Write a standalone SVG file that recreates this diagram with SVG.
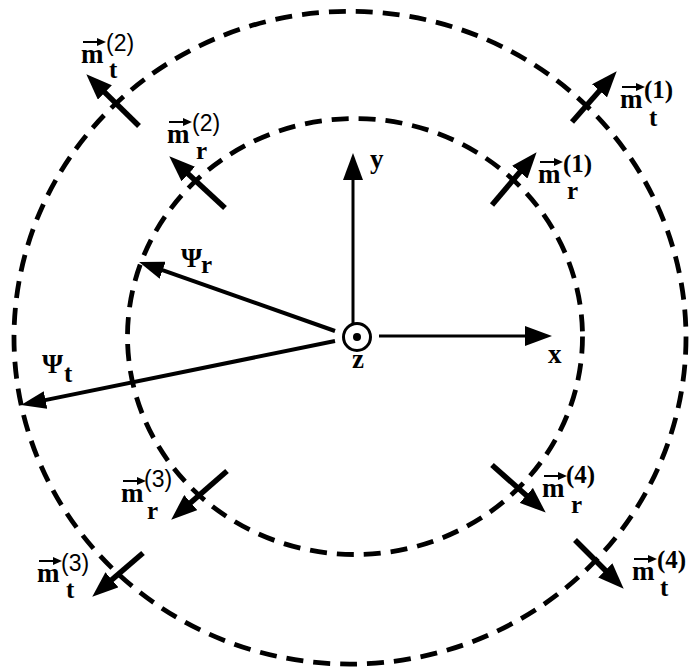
<svg xmlns="http://www.w3.org/2000/svg" width="689" height="670" viewBox="0 0 689 670">
<style>
.ring{fill:none;stroke:#000;stroke-width:4.8;stroke-dasharray:17 10}
.axis{fill:none;stroke:#000;stroke-width:3}
.psi{fill:none;stroke:#000;stroke-width:4}
.mag{fill:none;stroke:#000;stroke-width:5.5}
.ov{fill:none;stroke:#000;stroke-width:2}
.t{font-family:"Liberation Serif",serif;font-weight:bold;font-size:27px;fill:#000}
.s{font-family:"Liberation Serif",serif;font-weight:bold;font-size:25px;fill:#000}
.p{font-family:"Liberation Sans",sans-serif;font-size:23px;fill:#000}
</style>
<defs>
<marker id="ha" markerUnits="userSpaceOnUse" markerWidth="27" markerHeight="20" refX="15" refY="10" orient="auto"><path d="M0,0 L27,10 L0,20 z" fill="#000"/></marker>
<marker id="hp" markerUnits="userSpaceOnUse" markerWidth="25" markerHeight="18" refX="13" refY="9" orient="auto"><path d="M0,0 L25,9 L0,18 z" fill="#000"/></marker>
<marker id="hm" markerUnits="userSpaceOnUse" markerWidth="26" markerHeight="20" refX="13" refY="10" orient="auto"><path d="M0,0 L26,10 L0,20 z" fill="#000"/></marker>
<marker id="hv" markerUnits="userSpaceOnUse" markerWidth="9" markerHeight="8" refX="2" refY="4" orient="auto"><path d="M0,0 L9,4 L0,8 z" fill="#000"/></marker>
</defs>
<g id="outer-ring"><ellipse class="ring" cx="350" cy="337.7" rx="336" ry="326.4"/></g>
<g id="inner-ring"><ellipse class="ring" cx="355" cy="336.5" rx="227.5" ry="218"/></g>
<g id="connectors">
<line class="axis" x1="353" y1="323" x2="353" y2="165" marker-end="url(#ha)"/>
<line class="axis" x1="379" y1="336" x2="540" y2="336" marker-end="url(#ha)"/>
<line class="psi" x1="335" y1="331" x2="150.4" y2="265.9" marker-end="url(#hp)"/>
<line class="psi" x1="335" y1="341" x2="32.8" y2="402.6" marker-end="url(#hp)"/>
<line class="mag" x1="139" y1="126" x2="95.6" y2="83.4" marker-end="url(#hm)"/>
<line class="mag" x1="225" y1="208" x2="178.8" y2="165.2" marker-end="url(#hm)"/>
<line class="mag" x1="572" y1="122" x2="608.1" y2="81" marker-end="url(#hm)"/>
<line class="mag" x1="492" y1="205" x2="528.2" y2="162.2" marker-end="url(#hm)"/>
<line class="mag" x1="227" y1="471" x2="181" y2="511.1" marker-end="url(#hm)"/>
<line class="mag" x1="143" y1="553" x2="102.1" y2="588.2" marker-end="url(#hm)"/>
<line class="mag" x1="492" y1="465" x2="536" y2="504" marker-end="url(#hm)"/>
<line class="mag" x1="575" y1="540" x2="614.5" y2="579.5" marker-end="url(#hm)"/>
</g>
<g id="origin">
<circle cx="357" cy="337" r="13.5" fill="#fff" stroke="#000" stroke-width="3"/>
<circle cx="357" cy="337" r="4" fill="#000"/>
<text class="t" x="358" y="368" text-anchor="middle">z</text>
</g>
<g id="label-x"><text class="t" x="548" y="363">x</text></g>
<g id="label-y"><text class="t" x="370" y="168">y</text></g>
<g id="psi-r"><text class="t" x="181" y="267">Ψ</text><text class="s" x="201" y="273">r</text></g>
<g id="psi-t"><text class="t" x="42" y="373">Ψ</text><text class="s" x="64" y="382">t</text></g>
<g id="m-t2"><path class="ov" d="M83,42 H99" marker-end="url(#hv)"/><text class="t" x="81" y="63">m</text><text class="p" x="106" y="51">(2)</text><text class="s" x="109" y="78">t</text></g>
<g id="m-r2"><path class="ov" d="M169,122 H185" marker-end="url(#hv)"/><text class="t" x="167" y="143">m</text><text class="p" x="192" y="131">(2)</text><text class="s" x="196" y="159">r</text></g>
<g id="m-t1"><path class="ov" d="M622,87 H638" marker-end="url(#hv)"/><text class="t" x="620" y="108">m</text><text class="s" x="644" y="98">(1)</text><text class="s" x="649" y="126">t</text></g>
<g id="m-r1"><path class="ov" d="M540,162 H556" marker-end="url(#hv)"/><text class="t" x="538" y="183">m</text><text class="s" x="563" y="172">(1)</text><text class="s" x="567" y="199">r</text></g>
<g id="m-r3"><path class="ov" d="M123,481 H139" marker-end="url(#hv)"/><text class="t" x="121" y="502">m</text><text class="p" x="144" y="487">(3)</text><text class="s" x="147" y="519">r</text></g>
<g id="m-t3"><path class="ov" d="M39,561 H55" marker-end="url(#hv)"/><text class="t" x="37" y="582">m</text><text class="p" x="61" y="571">(3)</text><text class="s" x="66" y="598">t</text></g>
<g id="m-r4"><path class="ov" d="M544,476 H560" marker-end="url(#hv)"/><text class="t" x="542" y="497">m</text><text class="s" x="566" y="483">(4)</text><text class="s" x="571" y="513">r</text></g>
<g id="m-t4"><path class="ov" d="M634,559 H650" marker-end="url(#hv)"/><text class="t" x="632" y="580">m</text><text class="s" x="657" y="568">(4)</text><text class="s" x="660" y="596">t</text></g>
</svg>
